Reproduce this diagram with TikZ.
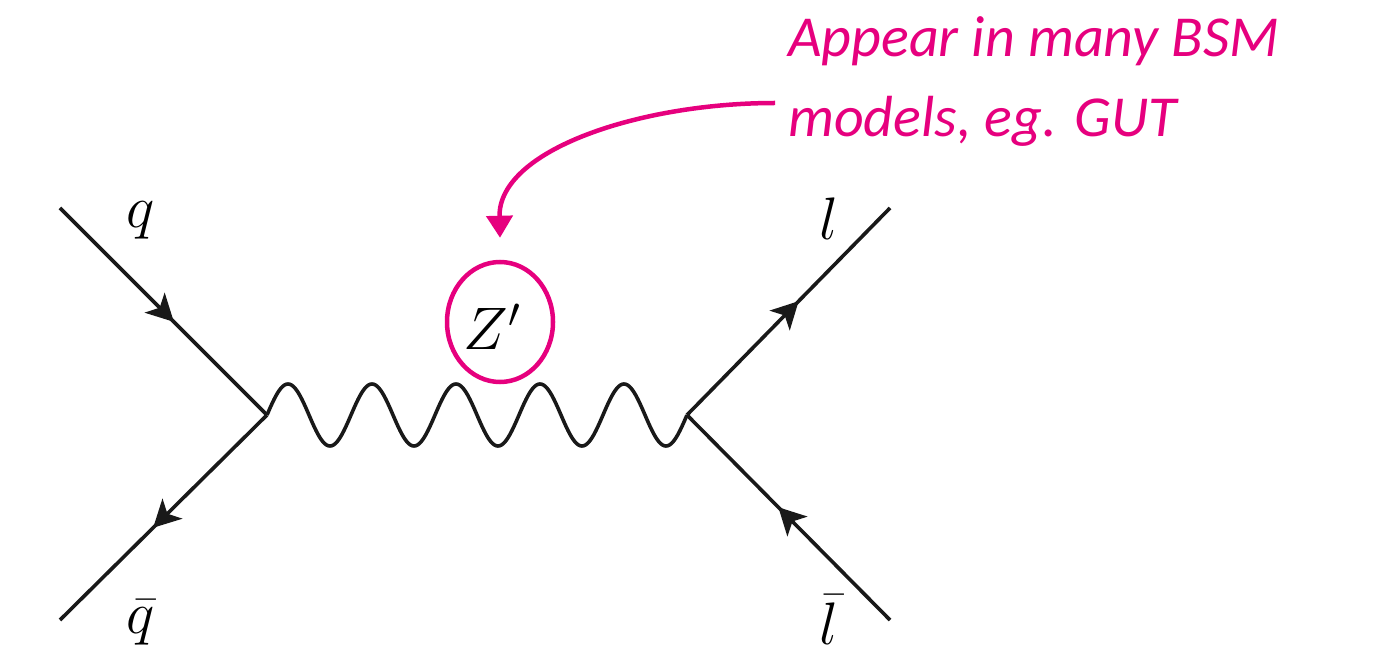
\RequirePackage{fix-cm}
\documentclass[tikz,border=0pt]{standalone}
\usepackage{fontspec}
\usepackage{xcolor}
\usepackage{tikz}
\usetikzlibrary{arrows.meta,shapes.geometric,decorations.markings}
\newfontfamily\notefont{Carlito}
\definecolor{zpink}{RGB}{230,0,126}

\begin{document}
\begin{tikzpicture}[
    x=1pt, y=-1pt,
    fermion/.style={line width=3.6pt, black!90, postaction={decorate},
        decoration={markings, mark=at position 0.55 with
          {\arrow{Stealth[length=27pt, width=28pt, inset=7pt]}}}},
    boson/.style={line width=3.6pt, black!90, line join=round},
    lbl/.style={font=\fontsize{60}{70}\selectfont, inner sep=0pt},
    ring/.style={ellipse, draw=zpink, line width=4.5pt,
        minimum width=106pt, minimum height=120pt, inner sep=0pt},
    note/.style={font=\notefont\fontsize{58}{80}\selectfont\itshape,
        text=zpink, align=left, inner sep=0pt},
    pointer/.style={-{Triangle[length=22pt, width=26pt]}, line width=4.5pt, zpink},
]
\useasboundingbox (0,0) rectangle (1374,652);

% --- vertices and external legs ---
\coordinate (vleft)   at (267,415);
\coordinate (vright)  at (687,415);
\coordinate (qin)     at (60,208);
\coordinate (qbarout) at (60,620);
\coordinate (lout)    at (890,208);
\coordinate (lbarin)  at (890,620);

% --- fermion lines ---
\draw[fermion] (qin) -- (vleft);
\draw[fermion] (vleft) -- (qbarout);
\draw[fermion] (vright) -- (lout);
\draw[fermion] (lbarin) -- (vright);

% --- Z' propagator (5 periods from vleft to vright) ---
\draw[boson, shift={(vleft)}] plot[domain=0:5, samples=241]
  ({84*\x}, {-31*sin(360*\x)});

% --- particle labels ---
\node[lbl] (qlbl)    at (141,220) {$q$};
\node[lbl] (qbarlbl) at (141,623) {$\bar q$};
\node[lbl] (llbl)    at (829,219) {$l$};
\node[lbl] (lbarlbl) at (829,620) {$\bar l$};
\node[lbl] (zlbl)    at (492,327) {$Z'$};
\node[ring] (zring)  at (500,322) {};

% --- annotation ---
\node[note, anchor=north west] (note) at (788,16)
  {Appear in many BSM\\models, eg. GUT};
\coordinate (notetail) at (775,103);
\draw[pointer] (notetail) .. controls (640,103) and (498,150) .. ([yshift=22pt]zring.north);
\end{tikzpicture}
\end{document}
